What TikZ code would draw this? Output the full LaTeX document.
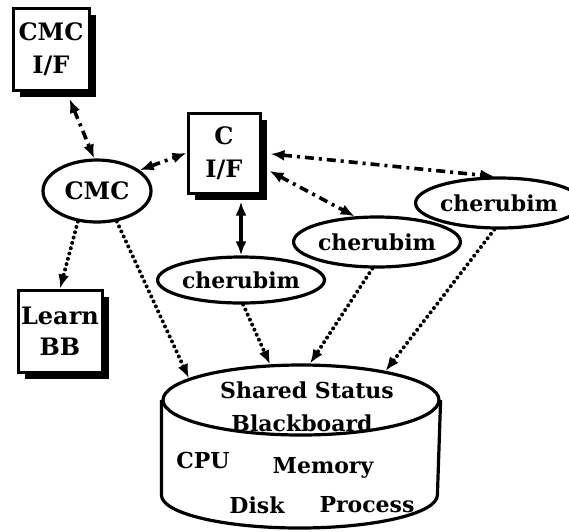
\documentclass[tikz,border=0pt]{standalone}
\usepackage{fontspec}
\setmainfont{DejaVu Serif}
\usetikzlibrary{arrows.meta,shapes.geometric,shadows,calc}
\begin{document}
\begin{tikzpicture}[x=1pt,y=-1pt,
  lbl/.style={font=\bfseries\fontsize{22}{32}\selectfont, align=center, inner sep=0pt},
  boxnode/.style={lbl, font=\bfseries\fontsize{24}{33}\selectfont, draw, line width=3pt, fill=white,
    drop shadow={shadow xshift=7pt, shadow yshift=-7pt, fill=black, opacity=1}},
  ellnode/.style={lbl, draw, ellipse, line width=3.2pt, inner sep=0pt},
  tipA/.style={-{Latex[length=14pt,width=11pt]}},
  tipB/.style={{Latex[length=14pt,width=11pt]}-{Latex[length=14pt,width=11pt]}},
  dashdotline/.style={line width=3.6pt, dash pattern=on 9pt off 5pt on 3pt off 5pt},
  dotline/.style={line width=4pt, line cap=round, dash pattern=on 0pt off 5.5pt},
  solidline/.style={line width=3.6pt}
]
\useasboundingbox (0,0) rectangle (569,531);

% boxes
\node[boxnode, minimum width=76pt, minimum height=82pt] (cmcif) at (51,49) {CMC\\I/F};
\node[boxnode, minimum width=72pt, minimum height=80pt] (cif) at (224,153) {C\\I/F};
\node[boxnode, minimum width=84pt, minimum height=82pt, font=\bfseries\fontsize{24}{31}\selectfont] (learn) at (60,331) {Learn\\BB};

% ellipses
\node[ellnode, minimum width=108pt, minimum height=62pt, font=\bfseries\fontsize{24}{32}\selectfont] (cmc) at (97,191) {CMC};
\node[ellnode, minimum width=132pt, minimum height=46pt] (ch1) at (241,280) {cherubim};
\node[ellnode, minimum width=140pt, minimum height=50pt] (ch2) at (377,242) {cherubim};
\node[ellnode, minimum width=136pt, minimum height=50pt] (ch3) at (499,203) {cherubim};

% blackboard cylinder
\node[draw, ellipse, line width=3.2pt, minimum width=276pt, minimum height=70pt] (bb) at (301,400) {};
\draw[line width=3.2pt] (bb.west) -- ++(0,95) arc[start angle=180, end angle=0, x radius=138, y radius=33] -- (bb.east);
\node[lbl] (t1) at (307,390) {Shared Status};
\node[lbl] (t2) at (302,423) {Blackboard};
\node[lbl] (t3) at (203,460) {CPU};
\node[lbl] (t4) at (323,468) {Memory};
\node[lbl] (t5) at (257,505) {Disk};
\node[lbl] (t6) at (367,505) {Process};

% connectors
\draw[dashdotline, tipB, shorten <=8pt] (cmcif.-70) -- (cmc.95);
\draw[dashdotline, tipB] (cmc.26) -- (cif.west);
\draw[solidline, tipB, shorten <=7pt] (cif.south -| ch1.north) -- (ch1.north);
\draw[dashdotline, tipB, shorten <=9pt] (cif.east) -- (ch3.100);
\draw[dashdotline, tipB, shorten <=9pt] (cif.-20) -- (ch2.131);

\draw[dotline, tipA] (cmc.-122) -- (learn.north);
\draw[dotline, tipA] (cmc.-57) -- (bb.169);
\draw[dotline, tipA] (ch1.-85) -- (bb.131);
\draw[dotline, tipA] (ch2.-100) -- (bb.76);
\draw[dotline, tipA] (ch3.-100) -- (bb.19);
\end{tikzpicture}
\end{document}
